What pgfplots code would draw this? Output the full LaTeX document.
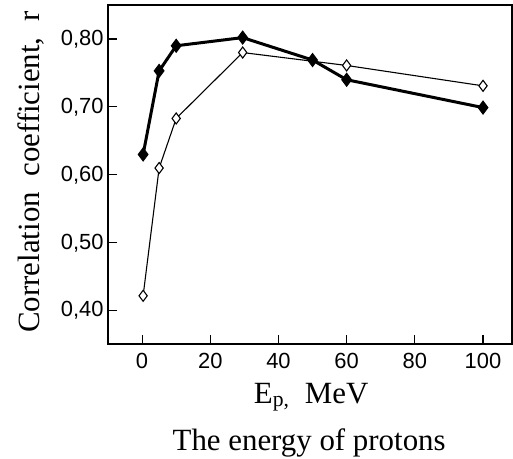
\documentclass[border=0pt]{standalone}
\usepackage{fontspec}
\setmainfont{Liberation Serif}
\newfontfamily\tickfont{Liberation Sans}
\usepackage{pgfplots}
\pgfplotsset{compat=1.18}
\begin{document}
\begin{tikzpicture}[x=1bp,y=1bp]
\begin{axis}[
  scale only axis,
  width=404bp, height=339bp,
  xmin=-10, xmax=108.5,
  ymin=0.351, ymax=0.85,
  clip=false,
  xtick={0,20,40,60,80,100},
  ytick={0.4,0.5,0.6,0.7,0.8},
  tick align=inside,
  xtick pos=bottom, ytick pos=left,
  major tick length=9bp,
  axis line style={line width=1.3bp},
  tick style={line width=1.1bp, black},
  /pgf/number format/assume math mode=true,
  ticklabel style={font=\tickfont\fontsize{22}{22}\selectfont},
  yticklabel style={xshift=-1bp, /pgf/number format/.cd, fixed, fixed zerofill, precision=2, use comma},
  xticklabel style={yshift=-6bp},
  xlabel={E\textsubscript{p,}\ \ MeV},
  xlabel style={at={(axis cs:49.6,0.351)}, anchor=base, yshift=-59bp, font=\fontsize{31}{31}\selectfont},
  ylabel={Correlation\ \ coefficient,\ \ r},
  ylabel style={at={(axis cs:-30,0.604)}, anchor=base, font=\fontsize{31}{31}\selectfont},
]
\coordinate (o) at (rel axis cs:0,0);
\addplot[black, line width=3bp, mark=diamond*, mark size=6.5bp, mark options={solid, fill=black, line width=1bp}]
  coordinates {(0.3,0.630) (5,0.753) (10,0.790) (29.5,0.802) (50,0.769) (60,0.740) (100,0.699)};
\addplot[black, line width=1.1bp, mark=diamond*, mark size=5.5bp, mark options={solid, fill=white, line width=1.1bp}]
  coordinates {(0.3,0.422) (5,0.610) (10,0.683) (29.5,0.780) (60,0.761) (100,0.731)};
\node[anchor=base, yshift=-106bp, font=\fontsize{31}{31}\selectfont] at (axis cs:49,0.351) {The energy of protons};
\end{axis}
\pgfresetboundingbox
\path ([shift={(-108bp,-115bp)}]o) rectangle ++(513bp,459bp);
\end{tikzpicture}
\end{document}
